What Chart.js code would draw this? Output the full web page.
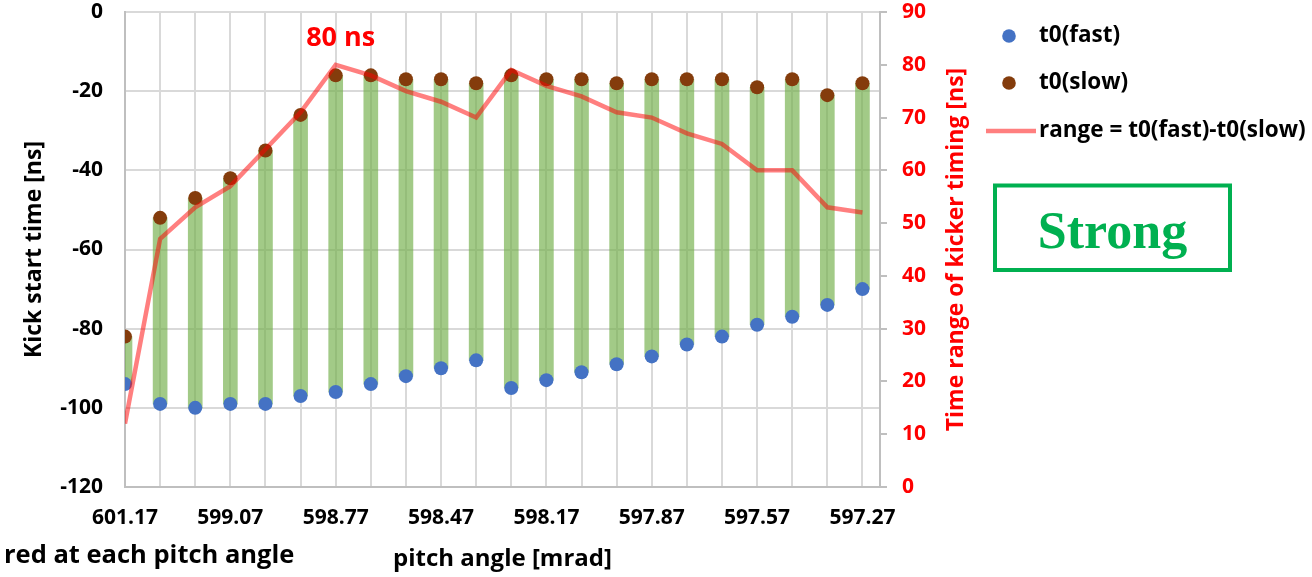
<!DOCTYPE html>
<html>
<head>
<meta charset="utf-8">
<script src="https://cdn.jsdelivr.net/npm/chart.js@4.4.1/dist/chart.umd.min.js"></script>
<style>
  html, body { margin: 0; padding: 0; background: #ffffff; }
  #wrap { width: 1312px; height: 577px; }
</style>
</head>
<body>
<div id="wrap"><canvas id="chart" width="1312" height="577"></canvas></div>
<script>
// Pitch angle of each measurement (only every third angle is printed on the axis)
const pitchLabels = ['601.17', '', '', '599.07', '', '', '598.77', '', '', '598.47', '', '',
                     '598.17', '', '', '597.87', '', '', '597.57', '', '', '597.27'];

// Kick start times [ns]
const t0Fast = [-94, -99, -100, -99, -99, -97, -96, -94, -92, -90, -88,
                -95, -93, -91, -89, -87, -84, -82, -79, -77, -74, -70];
const t0Slow = [-82, -52, -47, -42, -35, -26, -16, -16, -17, -17, -18,
                -16, -17, -17, -18, -17, -17, -17, -19, -17, -21, -18];

// Spread between slow and fast start [ns]
const timeRange = [12, 47, 53, 57, 64, 71, 80, 78, 75, 73, 70,
                   79, 76, 74, 71, 70, 67, 65, 60, 60, 53, 52];

// Axis ranges
const kickAxis = { min: -120, max: 0, step: 20 };
const rangeAxis = { min: 0, max: 90, step: 10 };

const FONT = "'Open Sans', 'DejaVu Sans', sans-serif";
Chart.defaults.font.family = FONT;

const idx = pitchLabels.map((_, i) => i);

const overlay = {
  id: 'overlay',
  afterDraw(chart) {
    const ctx = chart.ctx;
    const xs = chart.scales.x;
    const y2 = chart.scales.y2;
    const area = chart.chartArea;
    ctx.save();

    // right axis title, reading bottom to top
    ctx.save();
    ctx.translate(956, (area.top + area.bottom) / 2);
    ctx.rotate(-Math.PI / 2);
    ctx.fillStyle = '#ff0000';
    ctx.font = `bold 23px ${FONT}`;
    ctx.textAlign = 'center';
    ctx.textBaseline = 'middle';
    ctx.fillText('Time range of kicker timing [ns]', 0, 0);
    ctx.restore();

    // peak spread label
    let peak = 0;
    timeRange.forEach((v, i) => { if (v > timeRange[peak]) peak = i; });
    const px = xs.getPixelForValue(peak);
    const py = y2.getPixelForValue(timeRange[peak]);
    ctx.fillStyle = '#ff0000';
    ctx.font = `bold 27px ${FONT}`;
    ctx.textAlign = 'center';
    ctx.textBaseline = 'middle';
    ctx.fillText(`${timeRange[peak]} ns`, px + 5, py - 26);

    // legend
    const ds = chart.data.datasets;
    const items = [ds[1], ds[2], ds[3]];
    const rows = [36, 83, 131];
    ctx.font = `bold 22.5px ${FONT}`;
    ctx.textAlign = 'left';
    items.forEach((d, k) => {
      const yy = rows[k];
      if (d.pointStyle === 'line') {
        ctx.strokeStyle = d.borderColor;
        ctx.lineWidth = d.borderWidth;
        ctx.beginPath();
        ctx.moveTo(986, yy);
        ctx.lineTo(1036, yy);
        ctx.stroke();
      } else {
        ctx.fillStyle = d.backgroundColor;
        ctx.beginPath();
        ctx.arc(1009, yy, 6.8, 0, Math.PI * 2);
        ctx.fill();
      }
      ctx.fillStyle = '#000000';
      ctx.fillText(d.label, 1039, yy);
    });

    // kick strength box
    ctx.strokeStyle = '#00b050';
    ctx.lineWidth = 4;
    ctx.strokeRect(995, 185.5, 235, 84.5);
    ctx.fillStyle = '#00b050';
    ctx.font = "bold 52px 'Liberation Serif', 'DejaVu Serif', serif";
    ctx.textAlign = 'center';
    ctx.textBaseline = 'alphabetic';
    ctx.fillText('Strong', 1112.5, 248);

    // caption fragment
    ctx.fillStyle = '#000000';
    ctx.font = `bold 25.5px ${FONT}`;
    ctx.textAlign = 'left';
    ctx.textBaseline = 'middle';
    ctx.fillText('red at each pitch angle', 4, 556);

    ctx.restore();
  }
};

new Chart(document.getElementById('chart'), {
  type: 'bar',
  data: {
    datasets: [
      {
        type: 'bar',
        label: 'spread',
        data: idx.map(i => ({ x: i, y: [t0Fast[i], t0Slow[i]] })),
        backgroundColor: 'rgba(112,173,71,0.65)',
        borderWidth: 0,
        barThickness: 14,
        yAxisID: 'y',
        order: 3
      },
      {
        type: 'line',
        label: 't0(fast)',
        data: idx.map(i => ({ x: i, y: t0Fast[i] })),
        showLine: false,
        pointStyle: 'circle',
        pointRadius: 7,
        pointBorderWidth: 0,
        backgroundColor: '#4472c4',
        borderColor: '#4472c4',
        yAxisID: 'y',
        order: 2
      },
      {
        type: 'line',
        label: 't0(slow)',
        data: idx.map(i => ({ x: i, y: t0Slow[i] })),
        showLine: false,
        pointStyle: 'circle',
        pointRadius: 7,
        pointBorderWidth: 0,
        backgroundColor: '#843c0c',
        borderColor: '#843c0c',
        yAxisID: 'y',
        order: 2
      },
      {
        type: 'line',
        label: 'range = t0(fast)-t0(slow)',
        data: idx.map(i => ({ x: i, y: timeRange[i] })),
        pointStyle: 'line',
        pointRadius: 0,
        borderColor: 'rgba(255,0,0,0.5)',
        backgroundColor: 'rgba(255,0,0,0.5)',
        borderWidth: 4.5,
        tension: 0,
        yAxisID: 'y2',
        order: 1
      }
    ]
  },
  options: {
    responsive: false,
    animation: false,
    devicePixelRatio: 1,
    layout: { padding: { left: 0, right: 342, top: 12, bottom: 0 } },
    plugins: {
      legend: { display: false },
      tooltip: { enabled: false }
    },
    scales: {
      x: {
        type: 'linear',
        min: 0,
        max: pitchLabels.length - 0.5,
        offset: false,
        afterBuildTicks: s => { s.ticks = idx.map(i => ({ value: i })); },
        afterFit: s => { s.height = 90; s.paddingLeft = 0; s.paddingRight = 0; },
        grid: { color: '#d9d9d9', lineWidth: 2, offset: false, drawTicks: false },
        border: { color: '#bfbfbf', width: 2 },
        ticks: {
          autoSkip: false,
          maxRotation: 0,
          padding: 18,
          color: '#000000',
          font: { size: 21, weight: 'bold' },
          callback: v => pitchLabels[v] || ''
        },
        title: {
          display: true,
          text: 'pitch angle [mrad]',
          color: '#000000',
          font: { size: 24, weight: 'bold' },
          padding: { top: 0, bottom: 3 }
        }
      },
      y: {
        position: 'left',
        min: kickAxis.min,
        max: kickAxis.max,
        afterFit: s => { s.width = 125; s.paddingTop = 0; s.paddingBottom = 0; },
        grid: { color: '#d9d9d9', lineWidth: 2, drawTicks: false },
        border: { color: '#bfbfbf', width: 2 },
        ticks: {
          stepSize: kickAxis.step,
          padding: 22,
          color: '#000000',
          font: { size: 21, weight: 'bold' }
        },
        title: {
          display: true,
          text: 'Kick start time [ns]',
          color: '#000000',
          font: { size: 23, weight: 'bold' },
          padding: { top: 21, bottom: 0 }
        }
      },
      y2: {
        position: 'right',
        min: rangeAxis.min,
        max: rangeAxis.max,
        afterFit: s => { s.width = 90; s.paddingTop = 0; s.paddingBottom = 0; },
        grid: { drawOnChartArea: false, color: '#bfbfbf', lineWidth: 2, tickLength: 7 },
        border: { color: '#bfbfbf', width: 2 },
        ticks: {
          stepSize: rangeAxis.step,
          padding: 15,
          color: '#ff0000',
          font: { size: 21, weight: 'bold' }
        }
      }
    }
  },
  plugins: [overlay]
});
</script>
</body>
</html>
